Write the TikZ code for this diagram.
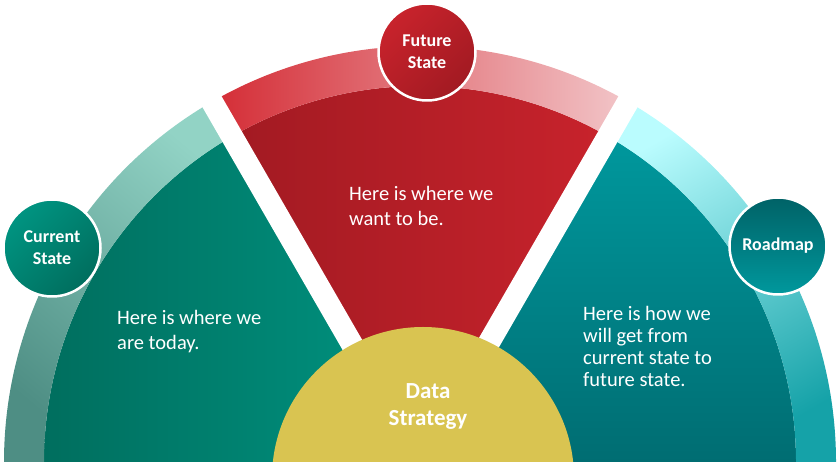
\documentclass[tikz,border=0pt]{standalone}
\usepackage{fontspec}
\setmainfont{Carlito}
\usepackage{xcolor}

\definecolor{nowband}{HTML}{4E8E84}
\definecolor{nowbandlight}{HTML}{92D3C5}
\definecolor{nowdark}{HTML}{006E5E}
\definecolor{nowlight}{HTML}{009481}
\definecolor{futband}{HTML}{D42C35}
\definecolor{futbandlight}{HTML}{F2C6C9}
\definecolor{futdark}{HTML}{A21A22}
\definecolor{futlight}{HTML}{C8232C}
\definecolor{roadband}{HTML}{15A2A8}
\definecolor{roadbandlight}{HTML}{BAFCFE}
\definecolor{roaddark}{HTML}{006D72}
\definecolor{roadlight}{HTML}{00989D}
\definecolor{stratfill}{HTML}{D9C451}

\tikzset{
	badge/.style={circle, draw=white, line width=2.5pt, minimum size=97pt, inner sep=0pt,
		text=white, align=center, font=\bfseries\fontsize{18}{22}\selectfont},
	bodytext/.style={text=white, align=left, anchor=west, inner sep=0pt,
		font=\fontsize{20.5}{25}\selectfont},
	gapline/.style={white, line width=22pt}
}

\begin{document}
\begin{tikzpicture}[x=1pt,y=1pt]
	\clip (0,0) rectangle (840,462);
	\begin{scope}[shift={(420,0)}]
		\shade[left color=nowdark, right color=nowlight]
			(0,0) -- (180:376) arc[start angle=180, end angle=120, radius=376] -- cycle;
		\shade[left color=futdark, right color=futlight]
			(0,0) -- (120:376) arc[start angle=120, end angle=60, radius=376] -- cycle;
		\shade[top color=roadlight, bottom color=roaddark]
			(0,0) -- (60:376) arc[start angle=60, end angle=0, radius=376] -- cycle;
		\shade[bottom color=nowband, top color=nowbandlight, shading angle=-40]
			(180:416) arc[start angle=180, end angle=120, radius=416]
			-- (120:376) arc[start angle=120, end angle=180, radius=376] -- cycle;
		\shade[left color=futband, right color=futbandlight]
			(120:416) arc[start angle=120, end angle=60, radius=416]
			-- (60:376) arc[start angle=60, end angle=120, radius=376] -- cycle;
		\shade[top color=roadbandlight, bottom color=roadband, shading angle=30]
			(60:416) arc[start angle=60, end angle=0, radius=416]
			-- (0:376) arc[start angle=0, end angle=60, radius=376] -- cycle;
		\draw[gapline] (0,0) -- (120:460);
		\draw[gapline] (0,0) -- (60:460);
	\end{scope}

	\fill[stratfill] (423,-16) circle[radius=151];

	\node[bodytext] (nowtext) at (117,130) {Here is where we\\are today.};
	\node[bodytext] (futtext) at (349,256) {Here is where we\\want to be.};
	\node[bodytext, font=\fontsize{20.5}{22}\selectfont] (roadtext) at (583,116)
		{Here is how we\\will get from\\current state to\\future state.};
	\node[text=white, align=center, font=\bfseries\fontsize{23}{27}\selectfont] (core) at (428,56)
		{Data\\Strategy};

	\node[badge, top color=nowlight, bottom color=nowdark, shading angle=45] (current) at (52,214)
		{Current\\State};
	\node[badge, top color=futlight, bottom color=futdark, shading angle=45] (future) at (427,410)
		{Future\\State};
	\node[badge, top color=roaddark!90!black, bottom color=roadlight] (roadmap) at (778,216)
		{Roadmap};
\end{tikzpicture}
\end{document}
